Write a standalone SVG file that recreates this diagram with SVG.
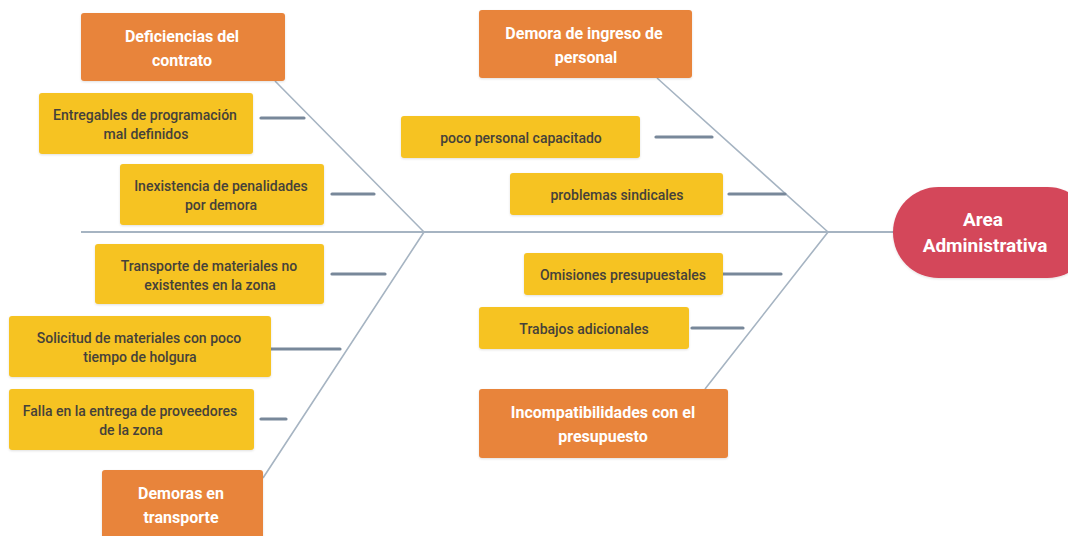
<svg xmlns="http://www.w3.org/2000/svg" width="1068" height="536" viewBox="0 0 1068 536">
  <style>
    .cat rect { fill: #E8843A; }
    .cause rect { fill: #F6C324; }
    .cat text { font-family: Roboto, "Liberation Sans", sans-serif; font-size: 16px; font-weight: 700; fill: #FFFFFF; text-anchor: middle; }
    .cause text { font-family: Roboto, "Liberation Sans", sans-serif; font-size: 14px; font-weight: 500; fill: #45413A; text-anchor: middle; }
    .head text { font-family: Roboto, "Liberation Sans", sans-serif; font-size: 19px; font-weight: 700; fill: #FFFFFF; text-anchor: middle; }
    .bone { stroke: #A6B4C2; stroke-width: 1.6; fill: none; }
    .spine { stroke: #A6B4C2; stroke-width: 2; fill: none; }
    .tick { stroke: #78889A; stroke-width: 3.2; stroke-linecap: round; }
  </style>
  <defs>
    <filter id="shadow" x="-10%" y="-20%" width="120%" height="150%">
      <feDropShadow dx="0" dy="1" stdDeviation="1" flood-color="#000000" flood-opacity="0.12"/>
    </filter>
  </defs>
  <rect width="1068" height="536" fill="#FFFFFF"/>

  <!-- connectors: spine, bones and cause ticks -->
  <g id="connectors">
    <path class="spine" d="M81 232 H895"/>
    <path class="bone" d="M275 81 L424 232 L263 478"/>
    <path class="bone" d="M657 78 L828 232 L705 389"/>
    <line class="tick" x1="261" y1="118" x2="304" y2="118"/>
    <line class="tick" x1="332" y1="194" x2="374" y2="194"/>
    <line class="tick" x1="656" y1="137" x2="712" y2="137"/>
    <line class="tick" x1="729" y1="194" x2="785" y2="194"/>
    <line class="tick" x1="332" y1="274" x2="385" y2="274"/>
    <line class="tick" x1="270" y1="349" x2="340" y2="349"/>
    <line class="tick" x1="261" y1="419" x2="286" y2="419"/>
    <line class="tick" x1="722" y1="274" x2="781" y2="274"/>
    <line class="tick" x1="692" y1="328" x2="743" y2="328"/>
  </g>

  <!-- effect -->
  <g id="head" class="head">
    <rect x="893" y="187" width="200" height="91" rx="45.5" fill="#D4465A" filter="url(#shadow)"/>
    <text x="983" y="226">Area</text>
    <text x="985" y="252">Administrativa</text>
  </g>

  <!-- categories -->
  <g id="cat-contrato" class="cat">
    <rect x="81" y="13" width="204" height="68" rx="3" filter="url(#shadow)"/>
    <text x="182" y="42">Deficiencias del</text>
    <text x="182" y="66">contrato</text>
  </g>
  <g id="cat-personal" class="cat">
    <rect x="479" y="10" width="213" height="68" rx="3" filter="url(#shadow)"/>
    <text x="584" y="39">Demora de ingreso de</text>
    <text x="586" y="63">personal</text>
  </g>
  <g id="cat-transporte" class="cat">
    <rect x="102" y="470" width="161" height="76" rx="3" filter="url(#shadow)"/>
    <text x="181" y="499">Demoras en</text>
    <text x="181" y="523">transporte</text>
  </g>
  <g id="cat-presupuesto" class="cat">
    <rect x="479" y="389" width="249" height="69" rx="3" filter="url(#shadow)"/>
    <text x="603" y="418">Incompatibilidades con el</text>
    <text x="603" y="442">presupuesto</text>
  </g>

  <!-- causes -->
  <g id="cause-entregables" class="cause">
    <rect x="39" y="93" width="214" height="61" rx="3" filter="url(#shadow)"/>
    <text x="145" y="120">Entregables de programación</text>
    <text x="146" y="139">mal definidos</text>
  </g>
  <g id="cause-penalidades" class="cause">
    <rect x="120" y="164" width="204" height="61" rx="3" filter="url(#shadow)"/>
    <text x="221" y="191">Inexistencia de penalidades</text>
    <text x="221" y="210">por demora</text>
  </g>
  <g id="cause-capacitado" class="cause">
    <rect x="401" y="116" width="239" height="42" rx="3" filter="url(#shadow)"/>
    <text x="521" y="143">poco personal capacitado</text>
  </g>
  <g id="cause-sindicales" class="cause">
    <rect x="510" y="173" width="213" height="42" rx="3" filter="url(#shadow)"/>
    <text x="617" y="200">problemas sindicales</text>
  </g>
  <g id="cause-materiales" class="cause">
    <rect x="95" y="244" width="229" height="60" rx="3" filter="url(#shadow)"/>
    <text x="209" y="271">Transporte de materiales no</text>
    <text x="210" y="290">existentes en la zona</text>
  </g>
  <g id="cause-holgura" class="cause">
    <rect x="9" y="316" width="262" height="61" rx="3" filter="url(#shadow)"/>
    <text x="139" y="343">Solicitud de materiales con poco</text>
    <text x="140" y="362">tiempo de holgura</text>
  </g>
  <g id="cause-proveedores" class="cause">
    <rect x="9" y="389" width="245" height="61" rx="3" filter="url(#shadow)"/>
    <text x="130" y="416">Falla en la entrega de proveedores</text>
    <text x="131" y="435">de la zona</text>
  </g>
  <g id="cause-omisiones" class="cause">
    <rect x="524" y="253" width="199" height="42" rx="3" filter="url(#shadow)"/>
    <text x="623" y="280">Omisiones presupuestales</text>
  </g>
  <g id="cause-adicionales" class="cause">
    <rect x="479" y="307" width="210" height="42" rx="3" filter="url(#shadow)"/>
    <text x="584" y="334">Trabajos adicionales</text>
  </g>
</svg>
